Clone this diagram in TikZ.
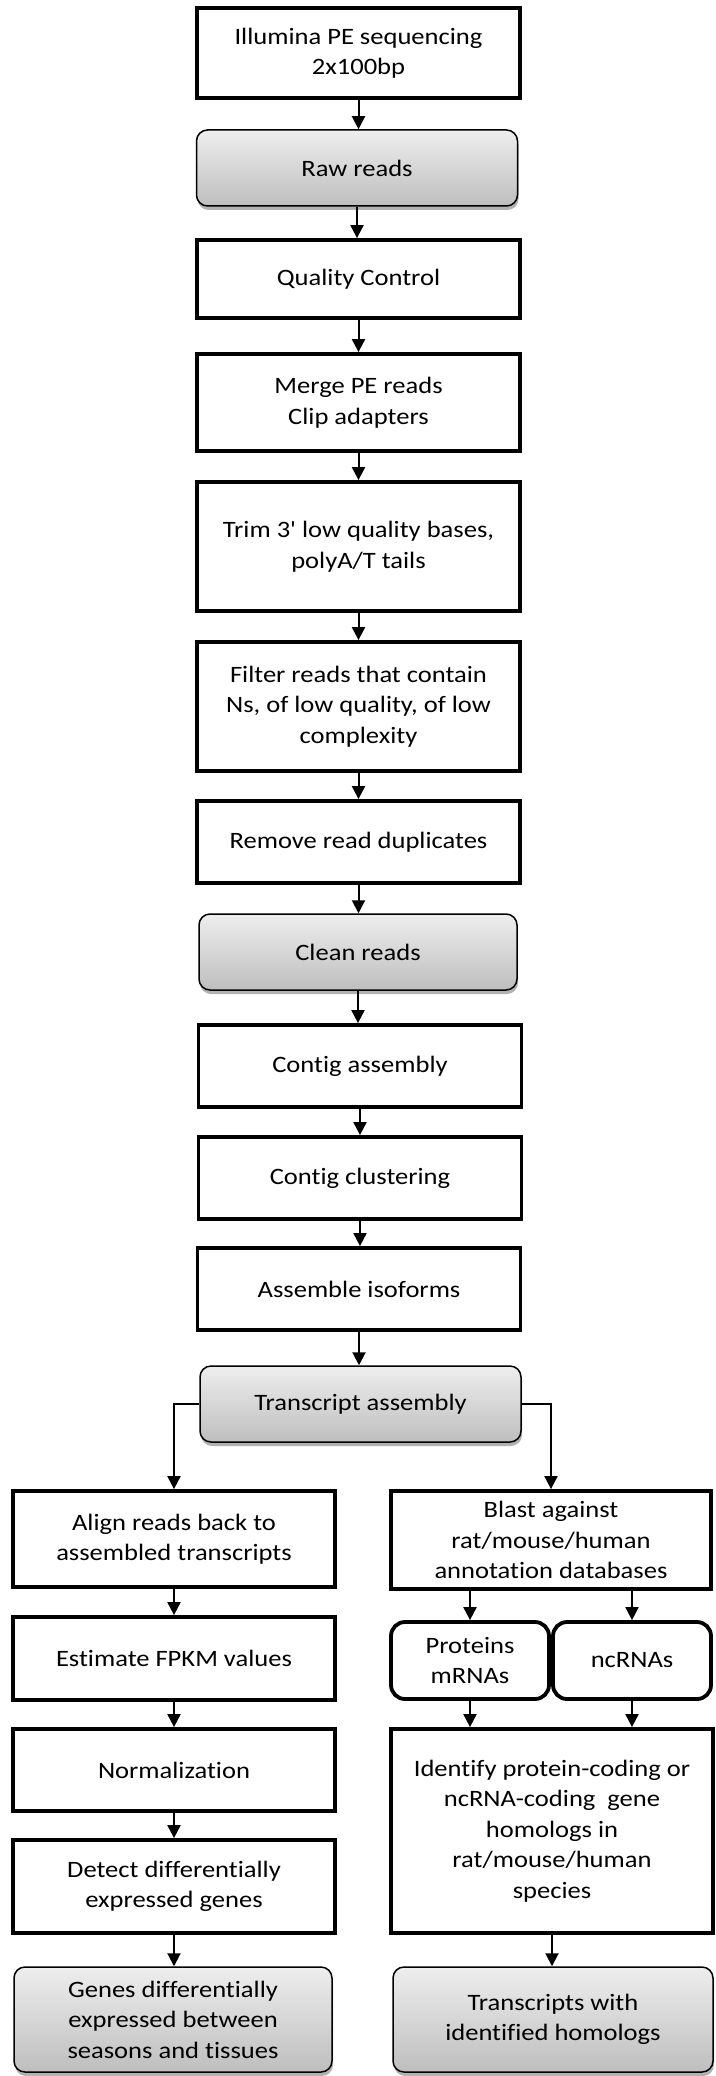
\documentclass[tikz,border=0pt]{standalone}
\usepackage{fontspec}
\setmainfont{Carlito}[FakeStretch=1.13, Ligatures={CommonOff,TeXOff}]
\usetikzlibrary{arrows.meta,shadows}
\definecolor{gtop}{RGB}{238,238,238}
\definecolor{gbot}{RGB}{190,190,190}
\begin{document}
\begin{tikzpicture}[x=1pt,y=-1pt,
  font=\fontsize{23.5}{30.5}\selectfont,
  box/.style={draw, line width=3.8pt, rectangle, align=center, inner sep=0pt, fill=white},
  gbox/.style={draw, line width=1.5pt, rectangle, rounded corners=11pt, align=center, inner sep=0pt,
    top color=gtop, bottom color=gbot,
    drop shadow={shadow xshift=1pt, shadow yshift=-4pt, opacity=0.3, fill=black}},
  rbox/.style={draw, line width=3.8pt, rectangle, rounded corners=14pt, align=center, inner sep=0pt, fill=white},
  arr/.style={-{Triangle[width=13pt,length=13pt]}, line width=2pt},
  sz/.style 2 args={minimum width=#1pt, minimum height=#2pt}
]
\useasboundingbox[fill=white] (0,0) rectangle (715,2076);

% main column
\node[box, sz={323}{90}] (illum) at (358.5,53) {Illumina PE sequencing\\2x100bp};
\node[gbox, sz={321}{76}] (raw) at (357,168) {Raw reads};
\node[box, sz={323}{78}] (qc) at (358.5,279) {Quality Control};
\node[box, sz={323}{97}] (merge) at (358.5,402.5) {Merge PE reads\\Clip adapters};
\node[box, sz={323}{129}] (trim) at (358.5,546.5) {Trim 3' low quality bases,\\polyA/T tails};
\node[box, sz={323}{129}] (filter) at (358.5,706.5) {Filter reads that contain\\Ns, of low quality, of low\\complexity};
\node[box, sz={323}{82}] (remove) at (358.5,842) {Remove read duplicates};
\node[gbox, sz={318}{76}] (clean) at (358,952) {Clean reads};
\node[box, sz={323}{82}] (contig) at (360,1066) {Contig assembly};
\node[box, sz={323}{82}] (cluster) at (360,1178) {Contig clustering};
\node[box, sz={323}{82}] (iso) at (359,1289) {Assemble isoforms};
\node[gbox, sz={321}{76}] (tx) at (360.5,1404) {Transcript assembly};

% left column
\node[box, sz={322}{96}] (align) at (174,1539) {Align reads back to\\assembled transcripts};
\node[box, sz={322}{83}] (fpkm) at (174,1658.5) {Estimate FPKM values};
\node[box, sz={322}{82}] (norm) at (174,1770) {Normalization};
\node[box, sz={322}{93}] (detect) at (174,1886.5) {Detect differentially\\expressed genes};
\node[gbox, sz={318}{105}] (genes) at (173,2019.5) {Genes differentially\\expressed between\\seasons and tissues};

% right column
\node[box, sz={320}{98}] (blast) at (551,1540) {Blast against\\rat/mouse/human\\annotation databases};
\node[rbox, sz={158}{77}] (prot) at (470,1660.5) {Proteins\\mRNAs};
\node[rbox, sz={158}{77}] (nc) at (632,1660.5) {ncRNAs};
\node[box, sz={322}{204}] (ident) at (552,1831) {Identify protein-coding or\\ncRNA-coding\ \ gene\\homologs in\\rat/mouse/human\\species};
\node[gbox, sz={320}{105}] (trans) at (553,2019.5) {Transcripts with\\identified homologs};

% connectors
\foreach \a/\b in {illum/raw, raw/qc, qc/merge, merge/trim, trim/filter, filter/remove,
  remove/clean, clean/contig, contig/cluster, cluster/iso, iso/tx,
  align/fpkm, fpkm/norm, norm/detect, detect/genes,
  prot/ident, nc/ident, ident/trans}
  \draw[arr] (\a.south) -- (\a.south |- \b.north);
\draw[arr] (prot.north |- blast.south) -- (prot.north);
\draw[arr] (nc.north |- blast.south) -- (nc.north);
\draw[arr] (tx.west) -| (align.north);
\draw[arr] (tx.east) -| (blast.north);
\end{tikzpicture}
\end{document}
